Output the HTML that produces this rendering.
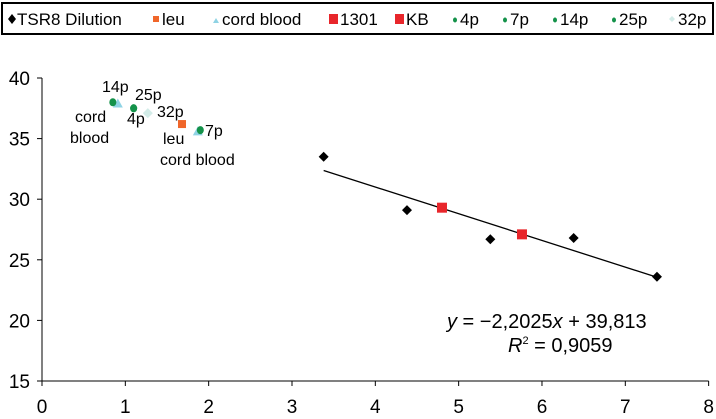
<!DOCTYPE html>
<html><head><meta charset="utf-8"><style>
body{margin:0;background:#fff;}
svg{display:block;font-family:"Liberation Sans",sans-serif;}
</style></head><body>
<svg id="c" width="716" height="419">
<rect x="2" y="3" width="711" height="31" fill="#fff" stroke="#000" stroke-width="2"/>
<g id="legend" font-size="17" fill="#000"></g>
<g id="axes"></g>
<g id="marks"></g>
<g id="labels" font-size="16"></g>
<text x="447" y="328" font-size="20"><tspan font-style="italic">y</tspan> = −2,2025<tspan font-style="italic">x</tspan> + 39,813</text>
<text x="508" y="352" font-size="20"><tspan font-style="italic">R</tspan><tspan font-size="11" dy="-8">2</tspan><tspan dy="8"> = 0,9059</tspan></text>
</svg>
<script>
const xTicks=[0,1,2,3,4,5,6,7,8];
const yTicks=[15,20,25,30,35,40];
const tsrX=[3.38,4.38,5.38,6.38,7.38];
const tsrY=[33.5,29.1,26.7,26.8,23.6];
const redX=[4.8,5.76];
const redY=[29.3,27.1];
const slope=-2.2025, intercept=39.813;
const greenX=[0.85,1.1,1.1,1.9];
const greenY=[38.0,37.5,37.5,35.7];
const cordX=[0.91,1.87];
const cordY=[37.9,35.6];
const leuX=[1.68], leuY=[36.2];
const p32X=[1.27], p32Y=[37.1];
const NS='http://www.w3.org/2000/svg';
const X=v=>42+v*83.33, Y=v=>78+(40-v)*12.12;
function mk(p,t,a){const e=document.createElementNS(NS,t);for(const k in a)e.setAttribute(k,a[k]);p.appendChild(e);return e;}
const ax=document.getElementById('axes'),mg=document.getElementById('marks'),lb=document.getElementById('labels'),lg=document.getElementById('legend');
let e=mk(ax,'line',{x1:X(0),y1:Y(40),x2:X(0),y2:Y(15),stroke:'#000','stroke-width':1});

e=mk(ax,'line',{x1:X(0),y1:Y(15),x2:X(8),y2:Y(15),stroke:'#000','stroke-width':1});

xTicks.forEach(v=>{mk(ax,'line',{x1:X(v),y1:Y(15),x2:X(v),y2:Y(15)+5,stroke:'#000'});
 const t=mk(ax,'text',{x:X(v),y:413,'text-anchor':'middle','font-size':19});t.textContent=v;
 });
yTicks.forEach(v=>{mk(ax,'line',{x1:X(0)-5,y1:Y(v),x2:X(0),y2:Y(v),stroke:'#000'});
 const t=mk(ax,'text',{x:30,y:Y(v)+7,'text-anchor':'end','font-size':19});t.textContent=v;
 });
e=mk(mg,'line',{x1:X(tsrX[0]),y1:Y(slope*tsrX[0]+intercept),x2:X(tsrX[4]),y2:Y(slope*tsrX[4]+intercept),stroke:'#000','stroke-width':1.3});

function diamond(x,y,s,c){return mk(mg,'polygon',{points:`${x},${y-s} ${x+s},${y} ${x},${y+s} ${x-s},${y}`,fill:c});}
tsrX.forEach((v,i)=>{const d=diamond(X(v),Y(tsrY[i]),5,'#000');});
redX.forEach((v,i)=>{const d=mk(mg,'rect',{x:X(v)-5,y:Y(redY[i])-5,width:10,height:10,fill:'#e8262b'});});
cordX.forEach((v,i)=>{const x=X(v),y=Y(cordY[i]);const d=mk(mg,'polygon',{points:`${x},${y-5} ${x+5},${y+4} ${x-5},${y+4}`,fill:'#8fd3e4'});});
p32X.forEach((v,i)=>{const d=diamond(X(v),Y(p32Y[i]),5,'#d3ece8');});
leuX.forEach((v,i)=>{const d=mk(mg,'rect',{x:X(v)-4,y:Y(leuY[i])-4,width:8,height:8,fill:'#f0662a'});});
greenX.forEach((v,i)=>{const d=mk(mg,'ellipse',{cx:X(v),cy:Y(greenY[i]),rx:3.5,ry:4,fill:'#14924a'});});
[['14p',102,92],['25p',135,100],['4p',127,124],['32p',157,117],['7p',205,136],['cord',75,122],['blood',70,143],['leu',163,144],['cord blood',160,165]].forEach(([t,x,y])=>{const s=mk(lb,'text',{x:x,y:y});s.textContent=t;});
const items=[['TSR8  Dilution','diamond','#000',8],['leu','sq','#f0662a',153],['cord blood','tri','#8fd3e4',213],['1301','sq2','#e8262b',329],['KB','sq2','#e8262b',395],['4p','dot','#14924a',453],['7p','dot','#14924a',503],['14p','dot','#14924a',553],['25p','dot','#14924a',612],['32p','dia2','#d3ece8',669]];
items.forEach(([t,k,c,x])=>{const y=19;let m;
 if(k==='diamond'){m=mk(lg,'polygon',{points:`${x+4},${y-5} ${x+8},${y} ${x+4},${y+5} ${x},${y}`,fill:c});}
 else if(k==='sq'){m=mk(lg,'rect',{x:x,y:y-3,width:6,height:6,fill:c});}
 else if(k==='sq2'){m=mk(lg,'rect',{x:x,y:y-5,width:9,height:10,fill:c});}
 else if(k==='tri'){m=mk(lg,'polygon',{points:`${x+3},${y-1} ${x+6},${y+4} ${x},${y+4}`,fill:c});}
 else if(k==='dot'){m=mk(lg,'ellipse',{cx:x+2,cy:y+1,rx:2,ry:2.5,fill:c});}
 else {m=mk(lg,'polygon',{points:`${x+3},${y-3} ${x+6},${y} ${x+3},${y+3} ${x},${y}`,fill:c});}
 
 const off=(k==='sq2')?11:(k==='dot'?7:9);
 const s=mk(lg,'text',{x:x+off,y:y+6});s.textContent=t;});
</script>
</body></html>
